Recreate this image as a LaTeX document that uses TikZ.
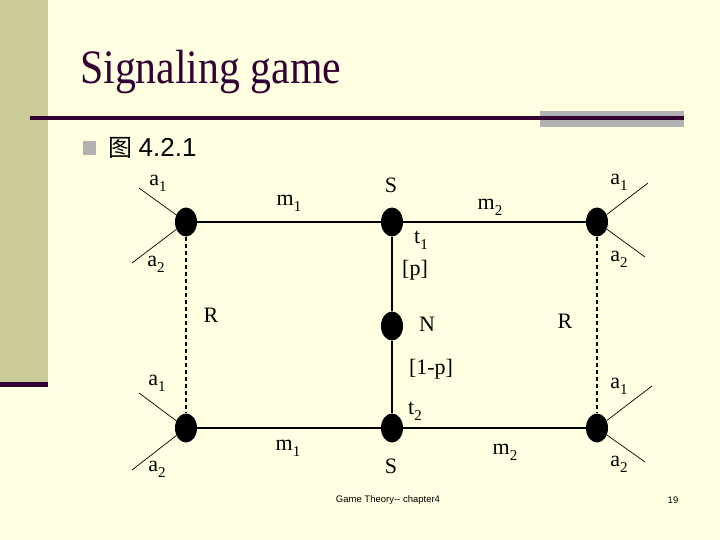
\documentclass[tikz,border=0pt]{standalone}
\usepackage{fontspec}
\setmainfont{Liberation Serif}
\newfontfamily\slidesans{Liberation Sans}
\newfontfamily\cjk{Noto Sans CJK SC}
\usetikzlibrary{positioning,shapes.geometric}

\definecolor{slidebg}{RGB}{255,255,225}
\definecolor{slidebar}{RGB}{204,204,153}
\definecolor{slidedark}{RGB}{51,0,51}
\definecolor{slidegray}{RGB}{178,178,178}

\newcommand{\idx}[1]{\raisebox{-6pt}{\fontsize{15}{15}\selectfont #1}}

\tikzset{
  dot/.style={ellipse, fill=black, minimum width=22pt, minimum height=29pt, inner sep=0pt},
  edge/.style={line width=1.3pt},
  infoset/.style={line width=1.1pt, dash pattern=on 4pt off 3pt},
  branch/.style={line width=0.7pt},
  lbl/.style={font=\fontsize{22}{24}\selectfont, inner sep=0pt}
}

\begin{document}
\begin{tikzpicture}[x=1pt, y=-1pt]
  % slide background
  \fill[slidebg] (0,0) rectangle (720,540);
  \useasboundingbox (0,0) rectangle (720,540);
  \fill[slidebar] (0,0) rectangle (48,382);
  \fill[slidedark] (0,382) rectangle (48,387);
  \fill[slidegray] (540,111) rectangle (684,127);
  \fill[slidedark] (30,116) rectangle (684,120);
  \node[anchor=base west, inner sep=0pt, text=slidedark, xscale=0.87,
        font=\fontsize{48}{48}\selectfont] (title) at (80,84) {Signaling game};
  \fill[slidegray] (83,141) rectangle (96,155);
  \node[anchor=base west, inner sep=0pt, font=\fontsize{26}{26}\selectfont] (fig) at (108,157)
    {{\cjk\fontsize{24}{24}\selectfont 图} {\slidesans 4.2.1}};

  % decision nodes
  \node[dot] (tl) at (186,222) {};
  \node[dot] (ts) at (392,222) {};
  \node[dot] (tr) at (597,222) {};
  \node[dot] (n)  at (392,326) {};
  \node[dot] (bl) at (186,428) {};
  \node[dot] (bs) at (392,428) {};
  \node[dot] (br) at (597,428) {};

  % branch ends
  \coordinate (tla1) at (139,188);
  \coordinate (tla2) at (132,263);
  \coordinate (tra1) at (648,183);
  \coordinate (tra2) at (645,257);
  \coordinate (bla1) at (139,393);
  \coordinate (bla2) at (132,470);
  \coordinate (bra1) at (652,386);
  \coordinate (bra2) at (645,462);

  \draw[edge] (tl) -- (ts) -- (tr);
  \draw[edge] (bl) -- (bs) -- (br);
  \draw[edge] (ts) -- (n) -- (bs);
  \draw[infoset] (tl) -- (bl);
  \draw[infoset] (tr) -- (br);
  \foreach \v in {tl,tr,bl,br} {
    \draw[branch] (\v) -- (\v a1);
    \draw[branch] (\v) -- (\v a2);
  }

  % labels
  \node[lbl] (tla1l) at (158,183) {a\idx{1}};
  \node[lbl] (tla2l) at (156,264) {a\idx{2}};
  \node[lbl] (tm1l)  at (289,203) {m\idx{1}};
  \node[lbl] (tsl)   at (391,185) {S};
  \node[lbl] (tm2l)  at (490,207) {m\idx{2}};
  \node[lbl] (tra1l) at (619,182) {a\idx{1}};
  \node[lbl] (t1l)   at (421,240) {t\idx{1}};
  \node[lbl] (pl)    at (415,270) {[p]};
  \node[lbl] (tra2l) at (619,259) {a\idx{2}};
  \node[lbl] (rl)    at (211,315) {R};
  \node[lbl] (nl)    at (427,324) {N};
  \node[lbl] (rr)    at (565,321) {R};
  \node[lbl] (qpl)   at (431,369) {[1-p]};
  \node[lbl] (bla1l) at (157,383) {a\idx{1}};
  \node[lbl] (t2l)   at (415,411) {t\idx{2}};
  \node[lbl] (bra1l) at (619,386) {a\idx{1}};
  \node[lbl] (bm1l)  at (288,448) {m\idx{1}};
  \node[lbl] (bla2l) at (157,469) {a\idx{2}};
  \node[lbl] (bsl)   at (391,466) {S};
  \node[lbl] (bm2l)  at (505,452) {m\idx{2}};
  \node[lbl] (bra2l) at (619,464) {a\idx{2}};

  % footer
  \node[inner sep=0pt, font=\slidesans\fontsize{9.5}{10}\selectfont] (foot) at (388,500) {Game Theory-- chapter4};
  \node[inner sep=0pt, font=\slidesans\fontsize{9.5}{10}\selectfont] (page) at (673,500) {19};
\end{tikzpicture}
\end{document}
